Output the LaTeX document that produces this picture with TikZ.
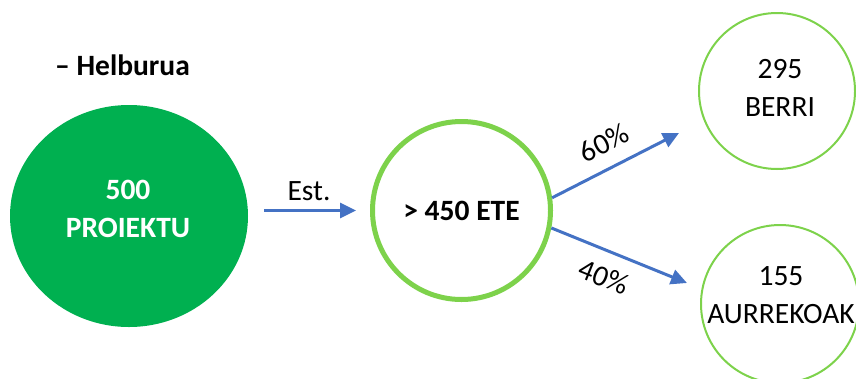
\documentclass[tikz,border=0pt]{standalone}
\usepackage{fontspec}
\setmainfont{Carlito}
\usetikzlibrary{arrows.meta,shapes.geometric}
\definecolor{dkgreen}{HTML}{00B050}
\definecolor{ltgreen}{RGB}{125,210,75}
\definecolor{arrowblue}{HTML}{4472C4}
\tikzset{
  txt/.style={font=\fontsize{29.5}{38}\selectfont, inner sep=0pt, align=center},
  btxt/.style={font=\fontsize{29.5}{38}\selectfont\bfseries, inner sep=0pt, align=center},
  ring/.style={circle, draw=ltgreen, inner sep=0pt},
  arr/.style={draw=arrowblue, line width=3pt, -{Triangle[length=16pt,width=15pt]}}
}
\begin{document}
\begin{tikzpicture}[x=1pt,y=-1pt]
\useasboundingbox (0,0) rectangle (856,378);
\clip (0,0) rectangle (856,378);
% title
\node[btxt, anchor=base west] (title) at (55,75) {– Helburua};
% big green ellipse
\node[ellipse, fill=dkgreen, minimum width=238pt, minimum height=222pt, inner sep=0pt] (big) at (129,216) {};
\node[btxt, text=white] (bigt) at (128,208.5) {500\\PROIEKTU};
% middle ring
\node[ring, line width=5pt, minimum size=178pt, btxt] (mid) at (461.5,210.5) {> 450 ETE};
% right rings
\node[ring, line width=2pt, minimum size=156pt] (top) at (777,91) {};
\node[txt] (topt) at (780,88) {295\\BERRI};
\node[ring, line width=2pt, minimum size=158pt] (bot) at (780,304) {};
\node[txt] (bott) at (781,295) {155\\AURREKOAK};
% arrows
\draw[arr, shorten <=16pt, shorten >=14pt] (big.east |- mid.west) -- (mid.west);
\node[txt, anchor=base] (est) at (309,200) {Est.};
\coordinate (e60) at (679,133);
\coordinate (e40) at (687,283);
\draw[arr] (mid.8) -- (e60);
\draw[arr] (mid.-11) -- (e40);
\node[txt, rotate=27] (p60) at (604,143) {60\%};
\node[txt, rotate=-22] (p40) at (604,277) {40\%};
\end{tikzpicture}
\end{document}
